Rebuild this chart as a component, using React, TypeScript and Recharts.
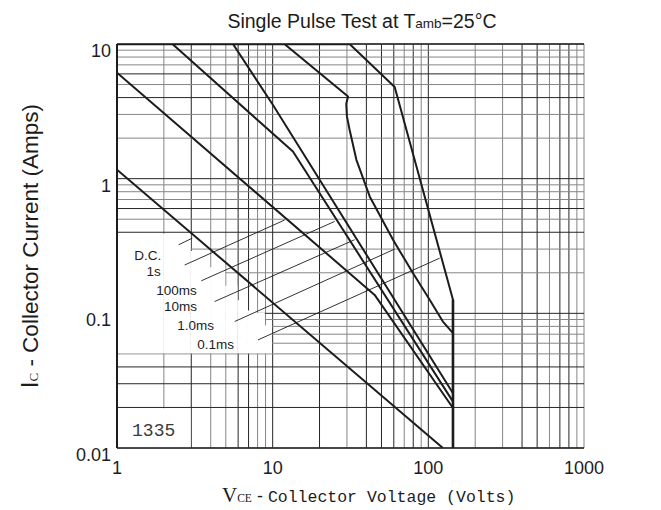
import React from "react";
import {
  LineChart,
  Line,
  XAxis,
  YAxis,
  ReferenceLine,
  ReferenceArea,
  ReferenceDot,
  Label,
} from "recharts";

// safe operating area, Vce in volts against Ic in amps
const dcV = [1, 124];
const dcI = [1.165, 0.01];
const s1V = [1, 45.2, 144];
const s1I = [6.12, 0.137, 0.0198];
const ms100V = [2.27, 13.5, 144];
const ms100I = [10, 1.59, 0.0221];
const ms10V = [5.56, 10, 144];
const ms10I = [10, 3.55, 0.0255];
const ms1V = [11.9, 30.5, 29.7, 30.0, 31.2, 34.5, 42.0, 59.3, 79.6, 102, 124, 144];
const ms1I = [10, 4.08, 3.6, 2.9, 2.31, 1.38, 0.738, 0.352, 0.199, 0.126, 0.0869, 0.0713];
const ms01V = [31.2, 60.8, 144, 144];
const ms01I = [10, 4.79, 0.126, 0.01];
const limitV = [1, 31.2];
const limitI = [10, 10];

// curve names and the thin leader lines that point at each curve
const curveNames = ["D.C.", "1s", "100ms", "10ms", "1.0ms", "0.1ms"];
const nameV = [1.575, 1.72, 2.41, 2.56, 3.2, 4.3];
const nameI = [0.272, 0.207, 0.1495, 0.1137, 0.0822, 0.0593];
const leaderFromV = [2.49, 2.72, 3.48, 4.24, 5.7, 8.05];
const leaderFromI = [0.323, 0.2285, 0.1744, 0.1224, 0.0869, 0.0635];
const leaderToV = [3.05, 11.94, 25.0, 33.6, 60.8, 118.3];
const leaderToI = [0.362, 0.493, 0.481, 0.352, 0.3, 0.257];

const xTicks = [1, 10, 100, 1000];
const yTicks = [0.01, 0.1, 1, 10];

const gridV = [
  1, 2, 3, 4, 5, 6, 7, 8, 9,
  10, 20, 30, 40, 50, 60, 70, 80, 90,
  100, 200, 300, 400, 500, 600, 700, 800, 900, 1000,
];
const gridI = [
  0.01, 0.02, 0.03, 0.04, 0.05, 0.06, 0.07, 0.08, 0.09,
  0.1, 0.2, 0.3, 0.4, 0.5, 0.6, 0.7, 0.8, 0.9,
  1, 2, 3, 4, 5, 6, 7, 8, 9, 10,
];

// the scan leaves the grid blank behind the curve names:
// vertical lines 1..9 stop at these currents (down to the 0.05 line)
const blankV = [1, 2, 3, 4, 5, 6, 7, 8, 9, 10];
const blankTop = [0.39, 0.39, 0.29, 0.22, 0.16, 0.125, 0.105, 0.101, 0.0815];
const stampText = "1335";

const SANS = "'Liberation Sans', Arial, sans-serif";
const SERIF = "'Liberation Serif', 'DejaVu Serif', serif";
const MONO = "'Liberation Mono', 'DejaVu Sans Mono', monospace";
const INK = "#1c1c1c";

// scanned grid: some lines came out black, some grey
const darkV = new Set([3, 6, 7, 10, 20, 40, 50, 60, 80, 100, 400, 500, 700, 800]);
const darkI = new Set([6, 4, 1, 0.6, 0.4, 0.1, 0.04, 0.03, 0.02]);

const pts = (v: number[], i: number[]) => v.map((x, k) => ({ v: x, i: i[k] }));

const curves = [
  { id: "dc", data: pts(dcV, dcI) },
  { id: "1s", data: pts(s1V, s1I) },
  { id: "100ms", data: pts(ms100V, ms100I) },
  { id: "10ms", data: pts(ms10V, ms10I) },
  { id: "1ms", data: pts(ms1V, ms1I) },
  { id: "0.1ms", data: pts(ms01V, ms01I) },
  { id: "limit", data: pts(limitV, limitI) },
];

const XTick = (p: any) => (
  <text
    x={p.x}
    y={p.y + 20}
    textAnchor="middle"
    dominantBaseline="central"
    fontFamily={SANS}
    fontSize={18}
    fill={INK}
  >
    {String(p.payload.value)}
  </text>
);

const YTick = (p: any) => (
  <text
    x={p.x - 6}
    y={p.y + 7}
    textAnchor="end"
    dominantBaseline="central"
    fontFamily={SANS}
    fontSize={18}
    fill={INK}
  >
    {String(p.payload.value)}
  </text>
);

const XTitle = () => (
  <text x={214} y={494} fill={INK}>
    <tspan fontFamily={SERIF} fontSize={21}>V</tspan>
    <tspan fontFamily={SERIF} fontSize={11.5}>CE</tspan>
    <tspan fontFamily={SANS} fontSize={18}> - </tspan>
    <tspan fontFamily={MONO} fontSize={16.5}>Collector Voltage (Volts)</tspan>
  </text>
);

const YTitle = () => (
  <text
    transform="translate(30,238) rotate(-90)"
    textAnchor="middle"
    fill={INK}
    fontFamily={SANS}
    fontSize={22.5}
  >
    <tspan fontSize={23}>I</tspan>
    <tspan fontFamily={SERIF} fontSize={13}>C</tspan>
    <tspan> - Collector Current (Amps)</tspan>
  </text>
);

export default function App() {
  return (
    <div style={{ position: "relative", width: 645, height: 502 }}>
      <div
        style={{
          position: "absolute",
          left: 154,
          top: 3,
          width: 400,
          textAlign: "center",
          fontFamily: SANS,
          fontSize: 19.5,
          lineHeight: "21px",
          color: INK,
        }}
      >
        Single Pulse Test at T<span style={{ fontSize: 13.5 }}>amb</span>=25°C
      </div>
      <LineChart
        width={645}
        height={502}
        margin={{ top: 36, right: 69, bottom: 32, left: 49 }}
      >
        <XAxis
          dataKey="v"
          type="number"
          scale="log"
          domain={[1, 1000]}
          ticks={xTicks}
          allowDataOverflow
          tickLine={false}
          axisLine={false}
          tickSize={0}
          tickMargin={0}
          tick={XTick}
          height={30}
        >
          <Label content={XTitle} />
        </XAxis>
        <YAxis
          dataKey="i"
          type="number"
          scale="log"
          domain={[0.01, 10]}
          ticks={yTicks}
          allowDataOverflow
          tickLine={false}
          axisLine={false}
          tickSize={0}
          tickMargin={0}
          tick={YTick}
          width={60}
        >
          <Label content={YTitle} />
        </YAxis>

        {gridV.map((v) => (
          <ReferenceLine
            key={`gv${v}`}
            x={v}
            stroke={darkV.has(v) ? "#262626" : "#868686"}
            strokeWidth={1}
            zIndex={100}
          />
        ))}
        {gridI.map((i) => (
          <ReferenceLine
            key={`gi${i}`}
            y={i}
            stroke={darkI.has(i) ? "#262626" : "#868686"}
            strokeWidth={1}
            zIndex={100}
          />
        ))}

        {blankTop.map((top, k) => (
          <ReferenceArea
            key={`blank${k}`}
            x1={k === 0 ? 1.006 : blankV[k] / 1.01}
            x2={blankV[k + 1] / 1.01}
            y1={0.0505}
            y2={top}
            fill="#ffffff"
            fillOpacity={1}
            stroke="none"
            zIndex={150}
          />
        ))}
        <ReferenceArea
          x1={1.006}
          x2={2.97}
          y1={0.0101}
          y2={0.0197}
          fill="#ffffff"
          fillOpacity={1}
          stroke="none"
          zIndex={150}
        />

        <ReferenceLine x={1} stroke={INK} strokeWidth={2} zIndex={200} />
        <ReferenceLine y={0.01} stroke={INK} strokeWidth={1.5} zIndex={200} />
        <ReferenceLine y={10} stroke={INK} strokeWidth={1.5} zIndex={200} />

        {curveNames.map((name, k) => (
          <Line
            key={`lead${name}`}
            data={[
              { v: leaderFromV[k], i: leaderFromI[k] },
              { v: leaderToV[k], i: leaderToI[k] },
            ]}
            dataKey="i"
            stroke={INK}
            strokeWidth={0.9}
            dot={false}
            activeDot={false}
            isAnimationActive={false}
            zIndex={380}
          />
        ))}

        {curves.map((c) => (
          <Line
            key={c.id}
            data={c.data}
            dataKey="i"
            type="linear"
            stroke={INK}
            strokeWidth={c.id === "limit" ? 2.4 : 2}
            strokeLinejoin="round"
            dot={false}
            activeDot={false}
            isAnimationActive={false}
            zIndex={400}
          />
        ))}
        <Line
          data={[
            { v: 144, i: 0.126 },
            { v: 144, i: 0.01 },
          ]}
          dataKey="i"
          stroke={INK}
          strokeWidth={2.6}
          dot={false}
          activeDot={false}
          isAnimationActive={false}
          zIndex={400}
        />

        {curveNames.map((name, k) => (
          <ReferenceDot
            key={`name${name}`}
            x={nameV[k]}
            y={nameI[k]}
            r={0}
            fill="none"
            stroke="none"
            zIndex={500}
            label={{
              value: name,
              position: "center",
              fill: INK,
              fontSize: 13.5,
              fontFamily: SANS,
            }}
          />
        ))}
        <ReferenceDot
          x={1.72}
          y={0.0136}
          r={0}
          fill="none"
          stroke="none"
          zIndex={500}
          label={{
            value: stampText,
            position: "center",
            fill: "#3a3a3a",
            fontSize: 18,
            fontFamily: MONO,
          }}
        />
      </LineChart>
    </div>
  );
}
